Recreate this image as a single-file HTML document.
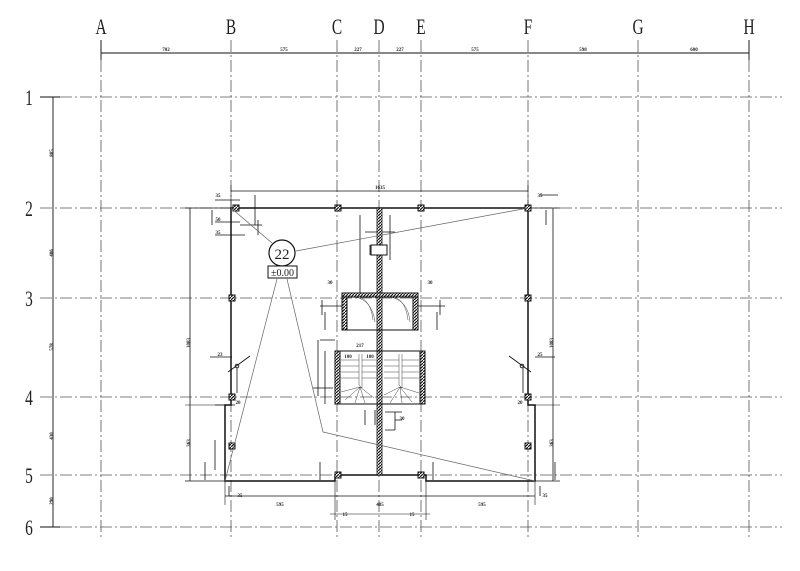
<!DOCTYPE html>
<html><head><meta charset="utf-8"><style>
html,body{margin:0;padding:0;background:#fff;}
svg{display:block}
text{font-family:"Liberation Serif",serif;fill:#222}
.s{font-family:"Liberation Sans",sans-serif;font-size:5px;font-weight:bold}
</style></head><body>
<svg width="800" height="571" viewBox="0 0 800 571" xmlns="http://www.w3.org/2000/svg">
<defs>
<pattern id="h" width="3" height="3" patternUnits="userSpaceOnUse"><rect width="3" height="3" fill="#fff"/><path d="M0,3L3,0" stroke="#111" stroke-width="1.2"/></pattern>
</defs>
<g stroke="#555" stroke-width="0.8" stroke-dasharray="12,3,2,3" fill="none">
<line x1="101" y1="40" x2="101" y2="540"/>
<line x1="231" y1="40" x2="231" y2="540"/>
<line x1="337" y1="40" x2="337" y2="540"/>
<line x1="379" y1="40" x2="379" y2="540"/>
<line x1="421" y1="40" x2="421" y2="540"/>
<line x1="528" y1="40" x2="528" y2="540"/>
<line x1="638" y1="40" x2="638" y2="540"/>
<line x1="749" y1="40" x2="749" y2="540"/>
<line x1="40" y1="97" x2="782" y2="97"/>
<line x1="40" y1="208" x2="782" y2="208"/>
<line x1="40" y1="298" x2="782" y2="298"/>
<line x1="40" y1="397" x2="782" y2="397"/>
<line x1="40" y1="475" x2="782" y2="475"/>
<line x1="40" y1="527" x2="782" y2="527"/>
</g>
<g font-size="22" text-anchor="middle">
<text transform="translate(101,34) scale(0.7,1)">A</text>
<text transform="translate(231,34) scale(0.7,1)">B</text>
<text transform="translate(337,34) scale(0.7,1)">C</text>
<text transform="translate(379,34) scale(0.7,1)">D</text>
<text transform="translate(421,34) scale(0.7,1)">E</text>
<text transform="translate(528,34) scale(0.7,1)">F</text>
<text transform="translate(638,34) scale(0.7,1)">G</text>
<text transform="translate(749,34) scale(0.7,1)">H</text>
<text transform="translate(29,105) scale(0.7,1)">1</text>
<text transform="translate(29,216) scale(0.7,1)">2</text>
<text transform="translate(29,306) scale(0.7,1)">3</text>
<text transform="translate(29,405) scale(0.7,1)">4</text>
<text transform="translate(29,483) scale(0.7,1)">5</text>
<text transform="translate(29,535) scale(0.7,1)">6</text>
</g>
<g stroke="#111" stroke-width="0.9">
<line x1="101" y1="53" x2="749" y2="53"/>
<line x1="53" y1="97" x2="53" y2="527"/>
<line x1="40" y1="97" x2="60" y2="97"/><line x1="40" y1="527" x2="60" y2="527"/>
<line x1="101" y1="40" x2="101" y2="60"/><line x1="749" y1="40" x2="749" y2="60"/>
</g>
<g class="s" text-anchor="middle">
<text x="166" y="51">702</text><text x="284" y="51">575</text><text x="358" y="51">227</text><text x="400" y="51">227</text>
<text x="475" y="51">575</text><text x="583" y="51">598</text><text x="694" y="51">600</text>
<text x="51" y="155" transform="rotate(-90 51 153)">805</text>
<text x="51" y="255" transform="rotate(-90 51 253)">486</text>
<text x="51" y="349" transform="rotate(-90 51 347)">578</text>
<text x="51" y="438" transform="rotate(-90 51 436)">430</text>
<text x="51" y="503" transform="rotate(-90 51 501)">290</text>
</g>
<g stroke="#111" stroke-width="1.5" fill="none">
<path d="M231,208 L528,208 L528,405 L535,405 L535,481 L426,481 L426,475 L335,475 L335,481 L225,481 L225,405 L231,405 Z"/>
</g>
<g stroke="#111" stroke-width="0.8" fill="none">
<line x1="190" y1="208" x2="190" y2="481"/>
<line x1="553" y1="208" x2="553" y2="481"/>
<line x1="231" y1="191" x2="528" y2="191"/>
<line x1="225" y1="496" x2="535" y2="496"/>
<line x1="185" y1="208" x2="231" y2="208"/><line x1="185" y1="481" x2="225" y2="481"/>
<line x1="528" y1="208" x2="560" y2="208"/><line x1="535" y1="481" x2="560" y2="481"/>
<line x1="185" y1="405" x2="225" y2="405" stroke-width="0.6"/>
<line x1="535" y1="405" x2="560" y2="405" stroke-width="0.6"/>
<line x1="231" y1="185" x2="231" y2="208" stroke-width="0.6"/>
<line x1="528" y1="185" x2="528" y2="208" stroke-width="0.6"/>
<line x1="225" y1="481" x2="225" y2="505" stroke-width="0.6"/>
<line x1="535" y1="481" x2="535" y2="505" stroke-width="0.6"/>
<line x1="335" y1="481" x2="335" y2="520" stroke-width="0.6"/>
<line x1="426" y1="481" x2="426" y2="520" stroke-width="0.6"/>
<line x1="330" y1="514" x2="430" y2="514" stroke-width="0.6"/>
<!-- corner details -->
<path d="M215,200H240M215,222H240M215,235H245M255,195V225M212,210V225M540,195H558M546,210V225M250,228H250"/>
<path d="M240,225H262M258,220V235"/>
<path d="M215,405H235M215,440V470M205,462V480M555,462V480M320,462V480M433,462V480"/>
<path d="M210,357H232M535,357H555M237,368V393M523,368V393"/>
<path d="M320,306H345M413,306H445M322,300V315M440,300V315M325,312V330M437,312V330"/>
<path d="M320,340H335M318,340V396M325,351V404M313,388H333"/>
<path d="M360,215V293M390,215V260M370,245V255M365,232H395"/>
<path d="M365,410V425M375,410V425M385,412H402M395,420H402M395,412V430M385,430H395"/>
<path d="M229,486V496M540,486V496"/>
</g>
<g class="s" text-anchor="middle">
<text x="380" y="189">1635</text>
<text x="280" y="506">595</text><text x="380" y="506">485</text><text x="482" y="506">595</text>
<text x="345" y="516">15</text><text x="412" y="516">15</text>
<text x="188" y="345" transform="rotate(-90 188 343)">1083</text>
<text x="551" y="345" transform="rotate(-90 551 343)">1083</text>
<text x="188" y="445" transform="rotate(-90 188 443)">363</text>
<text x="551" y="445" transform="rotate(-90 551 443)">363</text>
<text x="218" y="197">35</text><text x="540" y="197">35</text>
<text x="218" y="221">50</text><text x="218" y="234">35</text>
<text x="240" y="497">35</text><text x="545" y="497">35</text>
<text x="360" y="347">217</text>
<text x="348" y="347" dy="11">100</text><text x="370" y="358">100</text>
<text x="330" y="284">30</text><text x="430" y="284">30</text>
<text x="220" y="356">23</text><text x="540" y="356">25</text>
<text x="238" y="404">20</text><text x="520" y="404">20</text>
<text x="402" y="420">30</text>
</g>
<rect x="377" y="208" width="5" height="267" fill="url(#h)" stroke="#111" stroke-width="0.8"/>
<g stroke="#111" stroke-width="1" fill="none">
<rect x="342" y="293" width="76" height="37"/>
<rect x="342" y="293" width="5" height="37" fill="url(#h)"/>
<rect x="413" y="293" width="5" height="37" fill="url(#h)"/>
<rect x="342" y="293" width="76" height="4" fill="url(#h)"/>
<path d="M355,297 Q372,300 375,322 M360,297 Q371,302 373,320 M390,297 Q408,300 410,322 M395,297 Q406,302 408,320" stroke-width="0.4"/>
<rect x="371" y="245" width="16" height="10" fill="#fff"/>
</g>
<g stroke="#111" stroke-width="1" fill="none">
<rect x="335" y="351" width="90" height="53"/>
<rect x="335" y="351" width="5" height="53" fill="url(#h)"/>
<rect x="420" y="351" width="5" height="53" fill="url(#h)"/>
<g stroke-width="0.4">
<path d="M359,354 L359,385 L362,388 L362,354 M399,354 L399,385 L402,388 L402,354"/>
<path d="M341,360H359M341,366H359M341,372H359M341,378H359M362,360H376M362,366H376M362,372H376M362,378H376"/>
<path d="M384,360H399M384,366H399M384,372H399M384,378H399M402,360H419M402,366H419M402,372H419M402,378H419"/>
<path d="M360,387L341,392M360,387L345,400M360,387L355,403M360,387L365,403M360,387L374,398M400,387L384,395M400,387L390,403M400,387L402,403M400,387L412,402M400,387L419,393"/>
</g>
</g>
<g fill="url(#h)" stroke="#111" stroke-width="1">
<rect x="233" y="205" width="6" height="6"/><rect x="335" y="205" width="6" height="6"/><rect x="418" y="205" width="6" height="6"/><rect x="525" y="205" width="6" height="6"/>
<rect x="229" y="295" width="6" height="6"/><rect x="525" y="295" width="6" height="6"/>
<rect x="229" y="394" width="6" height="6"/><rect x="525" y="394" width="6" height="6"/>
<rect x="229" y="443" width="6" height="6"/><rect x="525" y="443" width="6" height="6"/>
<rect x="335" y="472" width="6" height="6"/><rect x="418" y="472" width="6" height="6"/>
</g>
<g stroke="#111" stroke-width="0.9" fill="none">
<line x1="228" y1="372" x2="250" y2="356"/><circle cx="237" cy="366" r="1.8"/>
<line x1="509" y1="356" x2="531" y2="372"/><circle cx="522" cy="366" r="1.8"/>
</g>
<g stroke="#666" stroke-width="0.7" fill="none">
<line x1="231" y1="208" x2="272" y2="243"/>
<line x1="296" y1="251" x2="528" y2="208"/>
<line x1="277" y1="279" x2="225" y2="481"/>
<line x1="287" y1="279" x2="323" y2="432"/>
<line x1="323" y1="432" x2="535" y2="481"/>
</g>
<circle cx="282" cy="253" r="13" fill="#fff" stroke="#111" stroke-width="1.2"/>
<text x="282" y="259" font-size="15" text-anchor="middle" font-family="Liberation Sans,sans-serif">22</text>
<rect x="268" y="266" width="29" height="12" fill="#fff" stroke="#111" stroke-width="1"/>
<text x="282.5" y="276" font-size="10" text-anchor="middle" font-family="Liberation Sans,sans-serif">±0.00</text>
</svg>
</body></html>
